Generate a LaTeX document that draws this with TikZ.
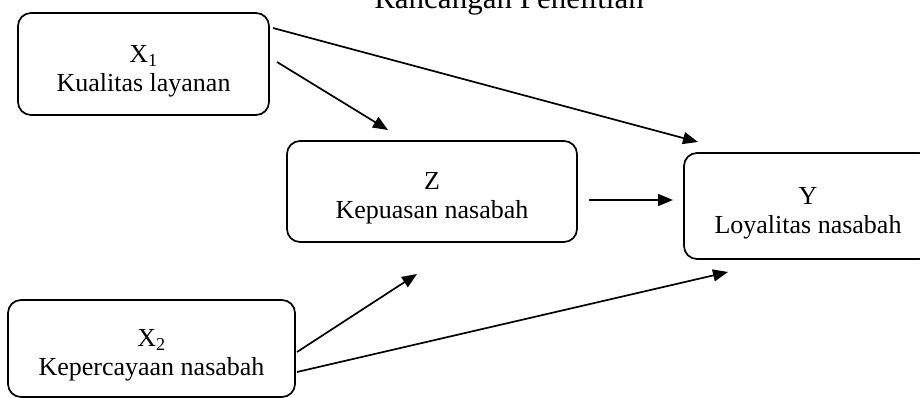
\documentclass[tikz,border=0pt]{standalone}
\usepackage{fontspec}
\setmainfont{Liberation Serif}
\usetikzlibrary{arrows.meta}
\newcommand{\twoline}[2]{\raisebox{-7pt}[\height][\depth]{\begin{tabular}{@{}c@{}}#1\\#2\end{tabular}}}
\begin{document}
\begin{tikzpicture}[x=1pt,y=-1pt,
  box/.style={draw,line width=1.7pt,rounded corners=13pt,inner sep=0pt,outer sep=0pt,
    align=center,font=\fontsize{26}{29}\selectfont},
  conn/.style={line width=1.7pt,-{Triangle[length=15pt,width=12pt]}}]
\clip (0,0) rectangle (920,398);
\fill[white] (0,0) rectangle (920,398);
\node[anchor=base,font=\fontsize{31}{31}\selectfont] (title) at (509,9) {Rancangan Penelitian};
\node[box,minimum width=251pt,minimum height=102pt] (X1) at (143.5,64) {\twoline{X\textsubscript{1}}{Kualitas layanan}};
\node[box,minimum width=290pt,minimum height=101pt] (Z) at (432,191.5) {\twoline{Z}{Kepuasan nasabah}};
\node[box,minimum width=248pt,minimum height=106pt] (Y) at (808,206) {\twoline{Y}{Loyalitas nasabah}};
\node[box,minimum width=287pt,minimum height=97pt] (X2) at (151.5,348.5) {\twoline{X\textsubscript{2}}{Kepercayaan nasabah}};
\draw[conn] ([xshift=4pt,yshift=-15pt]X1.north east) -- ([xshift=14pt,yshift=11pt]Y.north west);
\draw[conn] ([xshift=8pt,yshift=2pt]X1.east) -- ([xshift=101pt,yshift=11pt]Z.north west);
\draw[conn] ([xshift=12pt,yshift=-8.5pt]Z.east) -- ([xshift=-11pt,yshift=6pt]Y.west);
\draw[conn] ([xshift=2pt,yshift=-3.5pt]X2.east) -- ([xshift=130pt,yshift=-32pt]Z.south west);
\draw[conn] ([xshift=2pt,yshift=-23.5pt]X2.east) -- ([xshift=44pt,yshift=-13pt]Y.south west);
\end{tikzpicture}
\end{document}
